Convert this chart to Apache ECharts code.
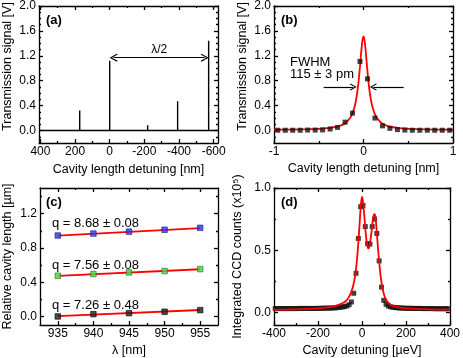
<!DOCTYPE html>
<html><head><meta charset="utf-8">
<script src="https://cdn.jsdelivr.net/npm/echarts@6/dist/echarts.min.js"></script>
<style>html,body{margin:0;padding:0;background:#fff}#c{width:463px;height:358px}</style>
</head><body><div id="c"></div>
<script>
// ---------- Panel (a): transmission spectrum vs cavity length ----------
const aPeakPos = [342, 260, 173, 87, 0, -58, -219, -392, -479, -571];
const aPeakHeight = [0.03, 0.015, 0.32, 0.02, 1.12, 0.015, 0.085, 0.47, 0.02, 1.44];
const aXTicks = [400, 200, 0, -200, -400, -600];
const aXMinor = [300, 100, -100, -300, -500];
const aYTicks = [0, 0.4, 0.8, 1.2, 1.6, 2.0];
const aYMinor = [-0.1, 0.1, 0.2, 0.3, 0.5, 0.6, 0.7, 0.9, 1.0, 1.1, 1.3, 1.4, 1.5, 1.7, 1.8, 1.9];
const aArrowFrom = 0, aArrowTo = -571, aArrowY = 1.17;

// ---------- Panel (b): single resonance ----------
const bDataX = [-0.958, -0.874, -0.791, -0.707, -0.624, -0.54, -0.457, -0.373, -0.29, -0.206, -0.123, -0.039,
                0.045, 0.128, 0.212, 0.295, 0.379, 0.462, 0.546, 0.629, 0.713, 0.796, 0.88, 0.963];
const bDataY = [0.005, 0.005, 0.005, 0.005, 0.008, 0.008, 0.01, 0.025, 0.05, 0.135, 0.28, 1.11,
                0.83, 0.2, 0.075, 0.035, 0.015, 0.008, 0.005, 0.005, 0.005, 0.005, 0.005, 0.005];
const bFitX = [-1, -0.8, -0.6, -0.5, -0.4, -0.3, -0.25, -0.2, -0.15, -0.125, -0.1, -0.09, -0.08, -0.07, -0.06, -0.05, -0.04, -0.03, -0.02, -0.01, 0,
               0.01, 0.02, 0.03, 0.04, 0.05, 0.06, 0.07, 0.08, 0.09, 0.1, 0.125, 0.15, 0.2, 0.25, 0.3, 0.4, 0.5, 0.6, 0.8, 1];
const bFitY = [0.013, 0.016, 0.022, 0.028, 0.038, 0.061, 0.083, 0.122, 0.2, 0.27, 0.381, 0.443, 0.519, 0.612, 0.726, 0.862, 1.018, 1.187, 1.346, 1.464, 1.508,
               1.464, 1.346, 1.187, 1.018, 0.862, 0.726, 0.612, 0.519, 0.443, 0.381, 0.27, 0.2, 0.122, 0.083, 0.061, 0.038, 0.028, 0.022, 0.016, 0.013];
const bXTicks = [-1, 0, 1];
const bXMinor = [-0.5, 0.5];
const bArrowLeft = [-0.445, -0.115], bArrowRight = [0.449, 0.11], bArrowY = 0.7;

// ---------- Panel (c): relative cavity length vs wavelength ----------
const cX = [935, 940, 945, 950, 955];
const cBlue = [0.945, 0.968, 0.99, 1.012, 1.035];
const cGreen = [0.475, 0.495, 0.514, 0.53, 0.553];
const cBlack = [0.0, 0.027, 0.038, 0.055, 0.074];
const cFitX = [935, 955];
const cBlueFit = [0.943, 1.032];
const cGreenFit = [0.474, 0.551];
const cBlackFit = [0.003, 0.075];
const cLabels = ['q = 8.68 ± 0.08', 'q = 7.56 ± 0.08', 'q = 7.26 ± 0.48'];
const cXTicks = [935, 940, 945, 950, 955];
const cXMinor = [937.5, 942.5, 947.5, 952.5];
const cYTicks = [0, 0.4, 0.8, 1.2];
const cYMinor = [0.2, 0.6, 1.0, 1.4];

// ---------- Panel (d): CCD counts vs cavity detuning ----------
const dDataX = [-394.5, -384, -373.5, -363, -352.5, -342, -331.5, -321, -310.5, -300, -289.5, -279, -268.5, -258, -247.5, -237, -226.5, -216, -205.5,
  -195, -184.5, -174, -163.5, -153, -142.5, -132, -121.5, -111, -100.5, -90, -79.5, -69, -58.5, -48, -37.5, -27, -16.5, -6, 4.5, 15, 25.5, 36, 46.5,
  57, 67.5, 78, 88.5, 99, 109.5, 120, 130.5, 141, 151.5, 162, 172.5, 183, 193.5, 204, 214.5, 225, 235.5, 246, 256.5, 267, 277.5, 288, 298.5, 309,
  319.5, 330, 340.5, 351, 361.5, 372, 382.5, 393];
const dDataY = [0.032, 0.032, 0.032, 0.032, 0.032, 0.032, 0.032, 0.032, 0.032, 0.032, 0.033, 0.033, 0.033, 0.033, 0.033, 0.033, 0.033, 0.033, 0.033,
  0.034, 0.034, 0.035, 0.035, 0.036, 0.036, 0.037, 0.038, 0.04, 0.042, 0.045, 0.048, 0.053, 0.063, 0.085, 0.155, 0.315, 0.595, 0.85, 0.86, 0.69, 0.553, 0.55, 0.69,
  0.75, 0.635, 0.415, 0.204, 0.098, 0.066, 0.052, 0.046, 0.042, 0.04, 0.038, 0.037, 0.036, 0.035, 0.034, 0.034, 0.034, 0.033, 0.033, 0.033, 0.033, 0.032, 0.032, 0.032, 0.032,
  0.032, 0.031, 0.031, 0.031, 0.031, 0.031, 0.031, 0.031];
const dFitX = [-400, -300, -200, -150, -120, -100, -85, -70, -60, -50, -40, -30, -22, -15, -10, -5, 0, 5, 10, 15, 20, 25, 29, 33, 38, 44, 50, 56, 61, 67,
  73, 78, 84, 90, 97, 105, 115, 130, 150, 200, 300, 400];
const dFitY = [0.022, 0.025, 0.033, 0.043, 0.053, 0.065, 0.078, 0.098, 0.124, 0.16, 0.215, 0.31, 0.44, 0.6, 0.74, 0.865, 0.93, 0.885, 0.79, 0.675, 0.585, 0.53, 0.515, 0.525, 0.575, 0.655,
  0.755, 0.79, 0.77, 0.65, 0.51, 0.41, 0.305, 0.225, 0.165, 0.12, 0.088, 0.063, 0.047, 0.034, 0.026, 0.023];
const dXTicks = [-400, -200, 0, 200, 400];
const dXMinor = [-300, -100, 100, 300];
const dYTicks = [0, 0.5, 1.0];
const dYMinor = [0.25, 0.75];

// ---------- chart build ----------
const FONT = 'Liberation Sans, Arial, Helvetica, sans-serif';
const BLACK = '#000';
const RED = '#ff0000';
const frame = { color: BLACK, width: 1.3 };
const chev = 'path://M5,0 L10,8 L8.9,9 L5,2.6 L1.1,9 L0,8 Z';

const xAxes = [], yAxes = [];
function addAxis(list, isX, g, c) {
  const main = list.length;
  const posA = isX ? 'bottom' : 'left', posB = isX ? 'top' : 'right';
  const base = { type: 'value', gridIndex: g, min: c.min, max: c.max, inverse: !!c.inverse,
    splitLine: { show: false }, minorTick: { show: false }, minorSplitLine: { show: false } };
  list.push(Object.assign({}, base, {
    position: posA,
    axisLine: { show: true, onZero: false, lineStyle: frame },
    axisTick: { show: true, inside: true, length: 4, customValues: c.majors, lineStyle: frame },
    axisLabel: { show: true, customValues: c.majors, formatter: c.fmt, margin: 3, fontSize: 12, color: BLACK, fontFamily: FONT },
    name: c.name, nameLocation: 'middle', nameGap: c.nameGap,
    nameTextStyle: Object.assign({ fontSize: 12.5, color: BLACK, fontFamily: FONT }, c.nameStyle || {})
  }));
  list.push(Object.assign({}, base, {
    position: posB,
    axisLine: { show: true, onZero: false, lineStyle: frame },
    axisTick: { show: true, inside: true, length: 4, customValues: c.majors, lineStyle: frame },
    axisLabel: { show: false }
  }));
  for (const p of [posA, posB]) {
    list.push(Object.assign({}, base, {
      position: p,
      axisLine: { show: false, onZero: false },
      axisTick: { show: true, inside: true, length: 2, customValues: c.minors, lineStyle: frame },
      axisLabel: { show: false }
    }));
  }
  return main;
}
const f1 = v => v.toFixed(1);
const fi = v => String(v);

const ax = [];
// (a)
ax.push({ x: addAxis(xAxes, true, 0, { min: -625, max: 408, inverse: true, majors: aXTicks, minors: aXMinor, fmt: fi, name: 'Cavity length detuning [nm]', nameGap: 20 }),
          y: addAxis(yAxes, false, 0, { min: -0.2, max: 2.0, majors: aYTicks, minors: aYMinor, fmt: f1, name: 'Transmission signal [V]', nameGap: 25, nameStyle: { padding: [0, 0, 0, 16] } }) });
// (b)
ax.push({ x: addAxis(xAxes, true, 1, { min: -1, max: 1, majors: bXTicks, minors: bXMinor, fmt: fi, name: 'Cavity length detuning [nm]', nameGap: 19 }),
          y: addAxis(yAxes, false, 1, { min: -0.2, max: 2.0, majors: aYTicks, minors: aYMinor, fmt: f1, name: 'Transmission signal [V]', nameGap: 25, nameStyle: { padding: [0, 0, 0, 16] } }) });
// (c)
ax.push({ x: addAxis(xAxes, true, 2, { min: 932.5, max: 957.5, majors: cXTicks, minors: cXMinor, fmt: fi, name: 'λ [nm]', nameGap: 19 }),
          y: addAxis(yAxes, false, 2, { min: -0.1, max: 1.5, majors: cYTicks, minors: cYMinor, fmt: f1, name: 'Relative cavity length [µm]', nameGap: 26 }) });
// (d)
ax.push({ x: addAxis(xAxes, true, 3, { min: -400, max: 400, majors: dXTicks, minors: dXMinor, fmt: fi, name: 'Cavity detuning [µeV]', nameGap: 19 }),
          y: addAxis(yAxes, false, 3, { min: -0.1, max: 1.0, majors: dYTicks, minors: dYMinor, fmt: f1, name: 'Integrated CCD counts (x10⁵)', nameGap: 30 }) });

const zip = (xs, ys) => xs.map((x, i) => [x, ys[i]]);

// panel (a) spectrum line: baseline with vertical spikes
const aOrder = aPeakPos.map((p, i) => [p, aPeakHeight[i]]).sort((u, v) => v[0] - u[0]);
const aLine = [[408, 0]];
aOrder.forEach(([p, h]) => { aLine.push([p, 0], [p, h], [p, 0]); });
aLine.push([-625, 0]);

const series = [];
series.push({
  type: 'line', xAxisIndex: ax[0].x, yAxisIndex: ax[0].y, data: aLine, showSymbol: false, symbol: 'none',
  lineStyle: { color: BLACK, width: 1.4 }, animation: false,
  markLine: {
    silent: true, symbol: [chev, chev], symbolSize: 8,
    lineStyle: { color: BLACK, width: 1.2, type: 'solid' },
    label: { show: true, position: 'middle', formatter: 'λ/2', fontSize: 12, color: BLACK, fontFamily: FONT, distance: 2 },
    data: [[{ coord: [aArrowFrom - 23, aArrowY] }, { coord: [aArrowTo + 23, aArrowY] }]]
  }
});
// panel (b)
series.push({
  type: 'line', xAxisIndex: ax[1].x, yAxisIndex: ax[1].y, data: zip(bFitX, bFitY), smooth: 0.3, showSymbol: false, symbol: 'none',
  lineStyle: { color: RED, width: 1.8 }, z: 2, animation: false,
  markLine: {
    silent: true, symbol: ['none', chev], symbolSize: 7,
    lineStyle: { color: BLACK, width: 1.2, type: 'solid' }, label: { show: false },
    data: [[{ coord: [bArrowLeft[0], bArrowY] }, { coord: [bArrowLeft[1], bArrowY] }],
           [{ coord: [bArrowRight[0], bArrowY] }, { coord: [bArrowRight[1], bArrowY] }]]
  }
});
series.push({
  type: 'scatter', xAxisIndex: ax[1].x, yAxisIndex: ax[1].y, data: zip(bDataX, bDataY), symbol: 'rect', symbolSize: 5,
  itemStyle: { color: '#111' }, z: 3, animation: false
});
// panel (c)
const cSets = [[cBlue, cBlueFit, '#2b3bf5', '#1a1a6e'], [cGreen, cGreenFit, '#3de03d', '#1d6e1d'], [cBlack, cBlackFit, '#222', '#000']];
cSets.forEach(([pts, fit, col, edge]) => {
  series.push({ type: 'line', xAxisIndex: ax[2].x, yAxisIndex: ax[2].y, data: zip(cFitX, fit), showSymbol: false, symbol: 'none',
    lineStyle: { color: RED, width: 1.8 }, z: 2, animation: false });
  series.push({ type: 'scatter', xAxisIndex: ax[2].x, yAxisIndex: ax[2].y, data: zip(cX, pts), symbol: 'rect', symbolSize: 5.5,
    itemStyle: { color: col, borderColor: edge, borderWidth: 0.8 }, z: 3, animation: false });
});
// panel (d)
series.push({
  type: 'scatter', xAxisIndex: ax[3].x, yAxisIndex: ax[3].y, data: zip(dDataX, dDataY), symbol: 'rect', symbolSize: 5,
  itemStyle: { color: '#111' }, z: 2, animation: false
});
series.push({
  type: 'line', xAxisIndex: ax[3].x, yAxisIndex: ax[3].y, data: zip(dFitX, dFitY), smooth: 0.3, showSymbol: false, symbol: 'none',
  lineStyle: { color: RED, width: 1.8 }, z: 3, animation: false
});

const txt = (x, y, s, bold, extra) => Object.assign({ type: 'text', x, y, style: { text: s, fill: BLACK, font: (bold ? 'bold ' : '') + '13px ' + FONT, textVerticalAlign: 'middle' } }, extra || {});
const graphic = [
  txt(46, 20, '(a)', true), txt(281, 20, '(b)', true), txt(46, 202, '(c)', true), txt(281, 202, '(d)', true),
  txt(290, 62, 'FWHM', false), txt(290, 74, '115 ± 3 pm', false),
  txt(52, 223, cLabels[0], false), txt(52, 265, cLabels[1], false), txt(52, 305, cLabels[2], false)
];

const chart = echarts.init(document.getElementById('c'), null, { renderer: 'canvas' });
chart.setOption({
  animation: false,
  backgroundColor: '#fff',
  textStyle: { fontFamily: FONT },
  grid: [
    { left: 39, top: 5, width: 179, height: 138 },
    { left: 274, top: 5, width: 179, height: 138 },
    { left: 38, top: 188, width: 180, height: 138 },
    { left: 274, top: 188, width: 179, height: 138 }
  ],
  xAxis: xAxes, yAxis: yAxes, series, graphic
});
</script></body></html>
